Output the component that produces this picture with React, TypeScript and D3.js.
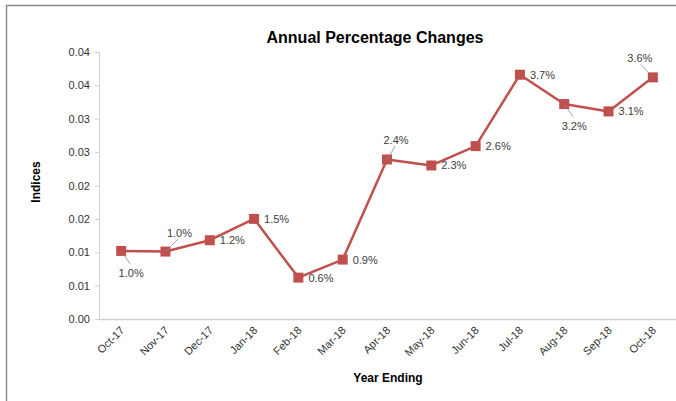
import * as d3 from 'd3'

const months = ['Oct-17', 'Nov-17', 'Dec-17', 'Jan-18', 'Feb-18', 'Mar-18', 'Apr-18', 'May-18', 'Jun-18', 'Jul-18', 'Aug-18', 'Sep-18', 'Oct-18']
const changes = [0.0102, 0.0101, 0.0118, 0.0150, 0.0062, 0.0089, 0.0239, 0.0230, 0.0259, 0.0366, 0.0322, 0.0311, 0.0362]
const yTicks = [0, 0.005, 0.01, 0.015, 0.02, 0.025, 0.03, 0.035, 0.04]
// where each data label sits relative to its point
const labelSpots = ['belowRight', 'aboveRight', 'right', 'right', 'right', 'right', 'above', 'right', 'right', 'right', 'belowRight', 'right', 'aboveLeft']

const RED = '#C0504D'
const FONT = 'Arial, "Liberation Sans", sans-serif'

export default function App() {
  const width = 676
  const height = 401
  const left = 99
  const right = 675
  const top = 52
  const bottom = 319

  const x = d3.scaleBand<string>().domain(months).range([left, right])
  const y = d3.scaleLinear().domain([0, 0.04]).range([bottom, top])
  const cx = (m: string) => (x(m) ?? 0) + x.bandwidth() / 2

  const line = d3.line<number>()
    .x((_, i) => cx(months[i]))
    .y(d => y(d))

  return (
    <svg width={width} height={height} style={{position: 'absolute', left: 0, top: 0}} fontFamily={FONT}>
      <rect x={0} y={0} width={width} height={height} fill={'#fff'} />
      {/* frame */}
      <path d={`M6.5,${height} V5.5 H${width}`} fill={'none'} stroke={'#8c8c8c'} strokeWidth={1.5} />

      <text x={375} y={43} textAnchor={'middle'} fontSize={16} fontWeight={700} fill={'#000'}>
        Annual Percentage Changes
      </text>

      {/* y axis */}
      <line x1={left + 0.5} x2={left + 0.5} y1={top} y2={bottom} stroke={'#d0d0d0'} strokeWidth={1} />
      {yTicks.map(t => (
        <g key={t} transform={`translate(0, ${y(t)})`}>
          <line x1={left - 4} x2={left} y1={0.5} y2={0.5} stroke={'#d0d0d0'} />
          <text x={left - 9} y={4} textAnchor={'end'} fontSize={11} fill={'#333'}>
            {d3.format('.2f')(Math.round(t * 100 + 1e-9) / 100)}
          </text>
        </g>
      ))}
      <text transform={`translate(40, 182) rotate(-90)`} textAnchor={'middle'} fontSize={12} fontWeight={700} fill={'#000'}>
        Indices
      </text>

      {/* x axis */}
      <line x1={left} x2={width} y1={bottom + 0.5} y2={bottom + 0.5} stroke={'#d0d0d0'} strokeWidth={1.5} />
      {months.map(m => (
        <text
          key={m}
          transform={`translate(${cx(m) + 4}, ${bottom + 12}) rotate(-45)`}
          textAnchor={'end'}
          fontSize={11}
          fill={'#333'}
        >
          {m}
        </text>
      ))}
      <text x={388} y={382} textAnchor={'middle'} fontSize={12} fontWeight={700} fill={'#000'}>
        Year Ending
      </text>

      {/* series */}
      <path d={line(changes) ?? undefined} fill={'none'} stroke={RED} strokeWidth={2.5} strokeLinejoin={'round'} />
      {changes.map((v, i) => (
        <rect key={i} x={cx(months[i]) - 5} y={y(v) - 5} width={10} height={10} fill={RED} />
      ))}

      {/* data labels */}
      {changes.map((v, i) => {
        const px = cx(months[i])
        const py = y(v)
        const txt = d3.format('.1%')(v)
        const spot = labelSpots[i]
        if (spot === 'right') {
          return (
            <text key={i} x={px + 10} y={py + 4} fontSize={11} fill={'#404040'}>{txt}</text>
          )
        }
        const dx = spot === 'belowRight' ? 10 : spot === 'aboveRight' ? 14 : spot === 'aboveLeft' ? -13 : 9
        const dy = spot === 'belowRight' ? 22 : -19
        const lx = spot === 'belowRight' ? 9 : spot === 'aboveRight' ? 13 : spot === 'aboveLeft' ? -12 : 8
        const ly = spot === 'belowRight' ? 13 : -13
        return (
          <g key={i}>
            <line x1={px} y1={py} x2={px + lx} y2={py + ly} stroke={'#8c8c8c'} strokeWidth={0.8} />
            <text x={px + dx} y={py + dy + 4} textAnchor={'middle'} fontSize={11} fill={'#404040'}>{txt}</text>
          </g>
        )
      })}
    </svg>
  )
}
